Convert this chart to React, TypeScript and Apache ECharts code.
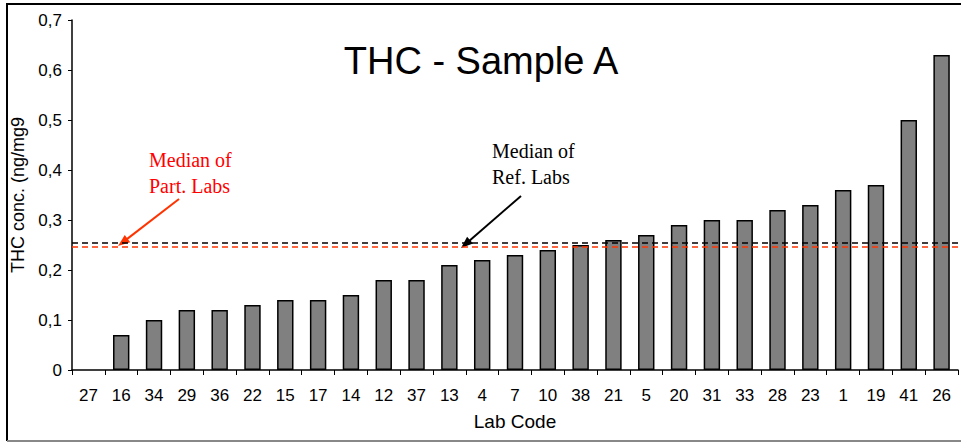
import React, { useEffect, useRef } from "react";
import * as echarts from "echarts";

const labCodes = ["27", "16", "34", "29", "36", "22", "15", "17", "14", "12", "37", "13", "4", "7", "10", "38", "21", "5", "20", "31", "33", "28", "23", "1", "19", "41", "26"];
const thcValues = [0, 0.07, 0.1, 0.12, 0.12, 0.13, 0.14, 0.14, 0.15, 0.18, 0.18, 0.21, 0.22, 0.23, 0.24, 0.25, 0.26, 0.27, 0.29, 0.3, 0.3, 0.32, 0.33, 0.36, 0.37, 0.5, 0.63];
const medianRefLabs = 0.254;
const medianPartLabs = 0.246;
const yTicks = [0, 0.1, 0.2, 0.3, 0.4, 0.5, 0.6, 0.7];

function arrow(x1: number, y1: number, x2: number, y2: number, color: string) {
  const dx = x2 - x1;
  const dy = y2 - y1;
  const len = Math.sqrt(dx * dx + dy * dy);
  const ux = dx / len;
  const uy = dy / len;
  const hl = 12;
  const hw = 4.5;
  const bx = x2 - ux * hl;
  const by = y2 - uy * hl;
  const px = -uy * hw;
  const py = ux * hw;
  return [
    { type: "line", shape: { x1, y1, x2: bx + ux * 2, y2: by + uy * 2 }, style: { stroke: color, lineWidth: 2 }, silent: true },
    { type: "polygon", shape: { points: [[x2, y2], [bx + px, by + py], [bx - px, by - py]] }, style: { fill: color }, silent: true },
  ];
}

export default function App() {
  const ref = useRef<HTMLDivElement>(null);
  useEffect(() => {
    document.body.style.margin = "0";
    const chart = echarts.init(ref.current!, null, { renderer: "svg" });
    const font = "Liberation Sans";
    const serif = "Liberation Serif";
    chart.setOption({
      animation: false,
      grid: { left: 72, right: 3, top: 20, bottom: 73, containLabel: false },
      xAxis: {
        type: "category",
        data: labCodes,
        name: "Lab Code",
        nameLocation: "middle",
        nameGap: 42,
        nameTextStyle: { fontFamily: font, fontSize: 19, color: "#000" },
        axisLine: { lineStyle: { color: "#000", width: 1.5 } },
        axisTick: { show: true, interval: 0, length: 5, lineStyle: { color: "#000" } },
        axisLabel: { interval: 0, fontFamily: font, fontSize: 17, color: "#000", margin: 17 },
      },
      yAxis: {
        type: "value",
        min: 0,
        max: 0.7,
        interval: 0.1,
        name: "THC conc. (ng/mg9",
        nameLocation: "middle",
        nameGap: 34,
        nameTextStyle: { fontFamily: font, fontSize: 18, color: "#000" },
        axisLine: { show: true, lineStyle: { color: "#000", width: 1.5 } },
        axisTick: { show: true, length: 4, lineStyle: { color: "#000" } },
        splitLine: { show: false },
        axisLabel: {
          fontFamily: font,
          fontSize: 17,
          color: "#000",
          margin: 10,
          formatter: (v: number) => {
            const t = yTicks.find((k) => Math.abs(k - v) < 1e-6);
            const val = t === undefined ? v : t;
            return val === 0 ? "0" : val.toFixed(1).replace(".", ",");
          },
        },
      },
      series: [
        {
          type: "bar",
          data: thcValues.map((v) => (v === 0 ? { value: v, itemStyle: { borderWidth: 0, opacity: 0 } } : v)),
          barWidth: "50%",
          itemStyle: { color: "#808080", borderColor: "#000", borderWidth: 1.5 },
          silent: true,
          markLine: {
            silent: true,
            symbol: "none",
            precision: 3,
            label: { show: false },
            data: [
              { yAxis: medianRefLabs, lineStyle: { color: "#000", type: [6, 4], width: 1.5 } },
              { yAxis: medianPartLabs, lineStyle: { color: "#ff3300", type: [6, 4], width: 1.5 } },
            ],
          },
        },
      ],
      graphic: [
        { type: "polyline", shape: { points: [[7, 441], [7, 4], [961, 4]] }, style: { stroke: "#000", lineWidth: 2, fill: "none" }, silent: true },
        { type: "line", shape: { x1: 7, y1: 441, x2: 961, y2: 441 }, style: { stroke: "#888", lineWidth: 2 }, silent: true },
        { type: "text", x: 481, y: 61, style: { text: "THC - Sample A", fontFamily: font, fontSize: 38, fill: "#000", align: "center", verticalAlign: "middle" }, silent: true },
        { type: "text", x: 149, y: 147, style: { text: "Median of\nPart. Labs", fontFamily: serif, fontSize: 20, lineHeight: 26, fill: "#ff0000", align: "left", verticalAlign: "top" }, silent: true },
        { type: "text", x: 492, y: 138, style: { text: "Median of\nRef. Labs", fontFamily: serif, fontSize: 20, lineHeight: 26, fill: "#000", align: "left", verticalAlign: "top" }, silent: true },
        ...arrow(179, 199, 118, 246, "#ff3300"),
        ...arrow(521, 196, 461, 248, "#000"),
      ],
    });
    return () => chart.dispose();
  }, []);
  return <div ref={ref} style={{ width: 961, height: 443 }} />;
}
